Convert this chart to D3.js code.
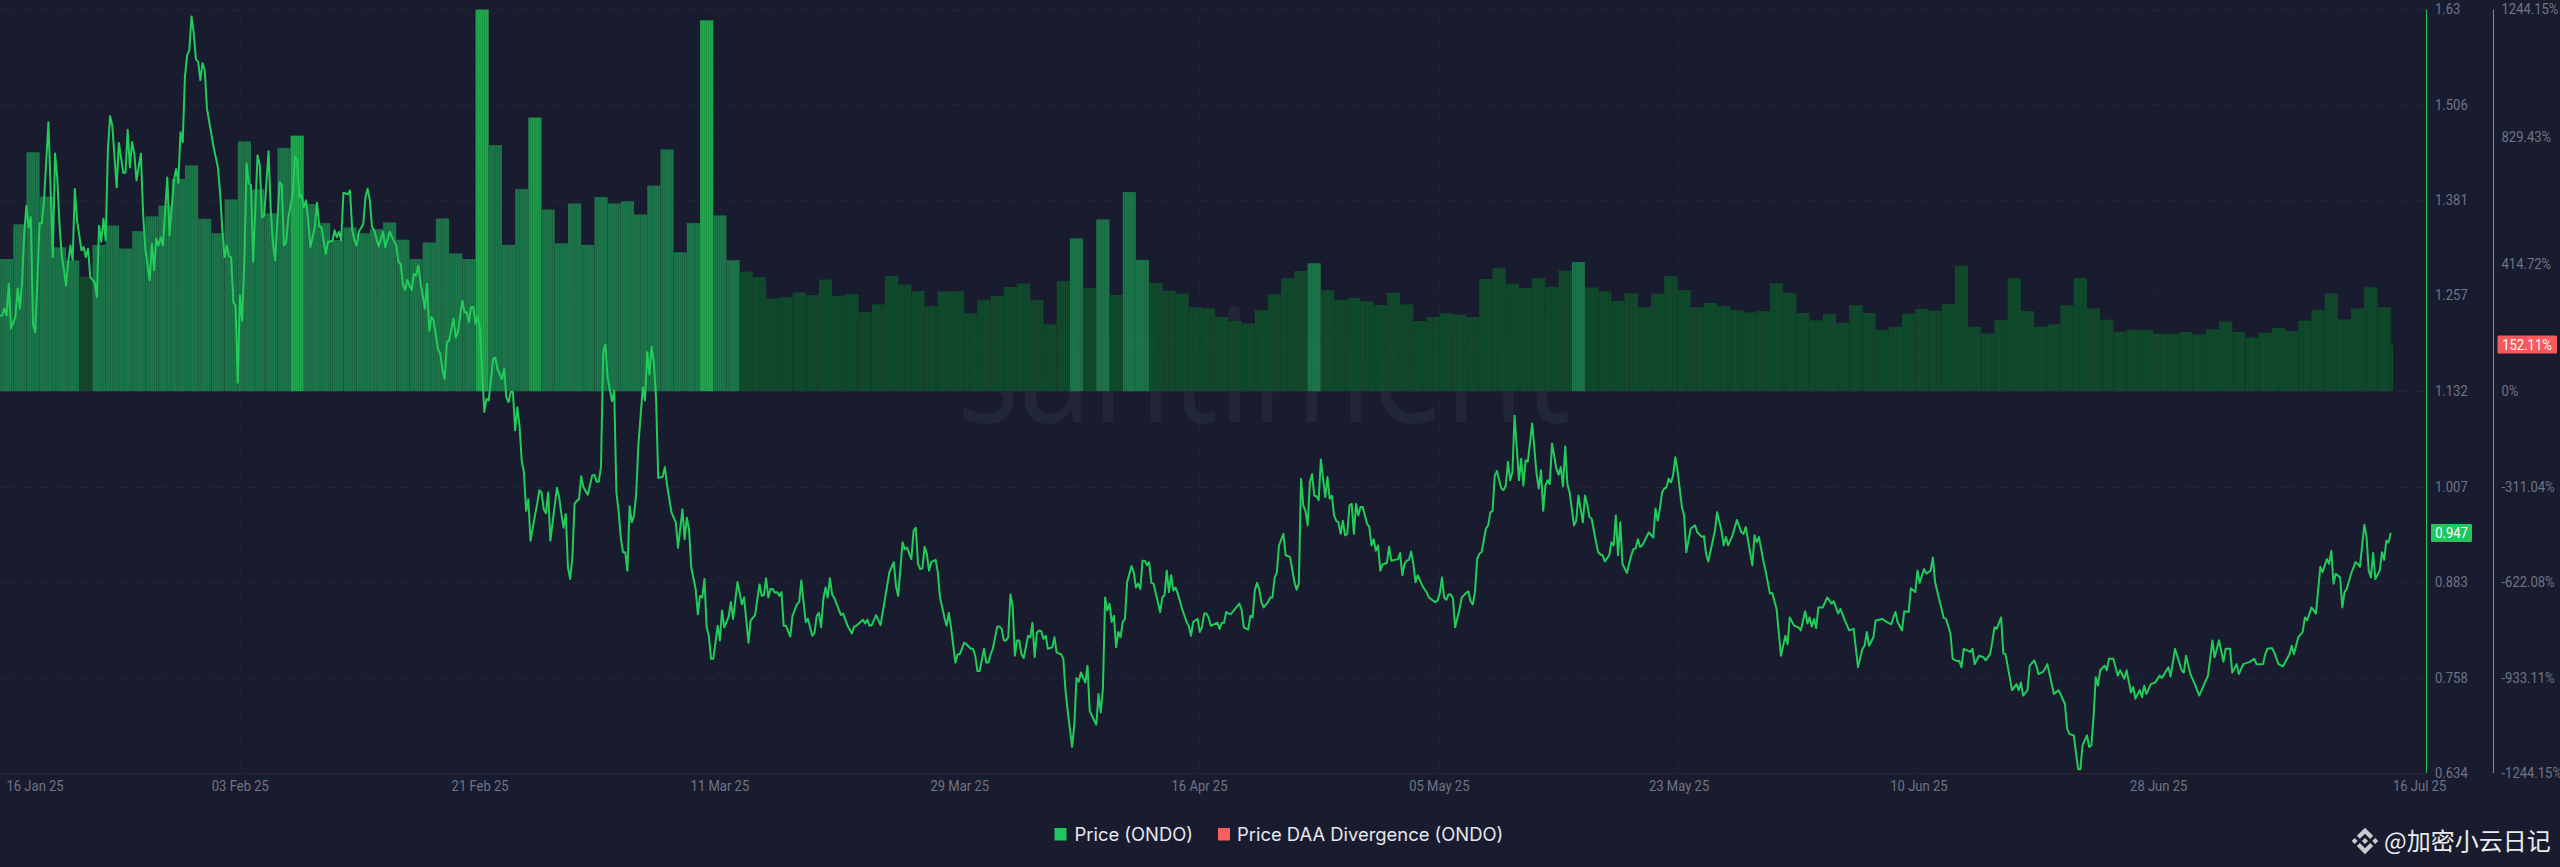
<!DOCTYPE html>
<html>
<head>
<meta charset="utf-8">
<script src="https://cdn.jsdelivr.net/npm/d3@7"></script>
<style>
html,body{margin:0;padding:0;background:#181c2e;overflow:hidden}
svg{display:block}
text{font-family:Roboto,sans-serif}
</style>
</head>
<body>
<svg id="chart" width="2560" height="867"></svg>
<script>
// ---------- data ----------
const priceTicks = [1.63,1.506,1.381,1.257,1.132,1.007,0.883,0.758,0.634];
const divergenceTicks = [1244.15,829.43,414.72,0,-311.04,-622.08,-933.11,-1244.15];
const dateTicks = [0,18.155,36.31,54.465,72.62,90.775,108.93,127.085,145.24,163.395];
const dateLabels = ["16 Jan 25","03 Feb 25","21 Feb 25","11 Mar 25","29 Mar 25","16 Apr 25","05 May 25","23 May 25","10 Jun 25","28 Jun 25"];
const lastDateLabel = "16 Jul 25";
const lastDay = 181.17;
const lastPrice = 0.947;
const lastDivergence = 152.11;
const seriesNames = ["Price (ONDO)","Price DAA Divergence (ONDO)"];
const strongDays = [22,36,40,53];
const quietEarlyDays = [6];
const moderateLateDays = [81,83,85,86,99,119];
const earlyPhaseEnd = 56;

// daily Price DAA Divergence (%)
const divergence = [431,544,779,634,469,426,373,477,540,465,522,570,605,692,736,562,515,625,814,658,580,793,833,610,548,493,534,515,528,550,494,431,485,563,449,431,1244,802,477,659,892,592,482,612,477,633,612,619,576,670,788,453,548,1209,573,427,
390,372,302,306,322,313,364,310,316,258,283,376,348,326,278,325,326,254,297,310,340,351,297,218,359,498,337,560,314,649,428,353,328,318,274,270,242,229,221,264,316,
368,392,417,329,297,304,293,281,321,283,229,242,254,250,242,366,401,350,337,368,340,393,421,338,325,294,319,274,318,375,330,274,288,278,264,257,261,352,321,255,231,252,223,280,255,200,210,253,268,262,284,409,210,188,232,368,261,210,218,280,369,270,233,194,200,200,188,187,193,185,202,227,193,175,191,206,196,230,265,319,234,270,339,274,152.11];

// price (USD) readings: [4-hour step since 16 Jan, price]
const priceReadings = [[0,1.230],[1,1.231],[2,1.240],[3,1.231],[4,1.272],[5,1.214],[7,1.229],[8,1.266],[9,1.240],[10,1.272],[11,1.338],[12,1.374],[13,1.346],[14,1.359],[15,1.220],[16,1.209],[18,1.351],[19,1.351],[20,1.381],[22,1.483],[24,1.307],[25,1.442],[26,1.411],[27,1.351],[28,1.311],[30,1.270],[31,1.301],[32,1.322],[33,1.303],[34,1.396],[35,1.355],[37,1.316],[38,1.320],[39,1.307],[40,1.318],[41,1.281],[43,1.274],[44,1.255],[45,1.348],[46,1.327],[47,1.357],[48,1.329],[49,1.446],[50,1.491],[51,1.479],[53,1.398],[54,1.456],[56,1.417],[57,1.417],[58,1.473],[59,1.424],[60,1.457],[61,1.442],[62,1.407],[64,1.442],[65,1.364],[66,1.318],[68,1.277],[69,1.324],[70,1.290],[71,1.331],[72,1.322],[73,1.333],[74,1.322],[76,1.411],[77,1.335],[79,1.407],[80,1.422],[81,1.404],[82,1.470],[83,1.457],[84,1.542],[85,1.570],[86,1.577],[87,1.621],[88,1.599],[89,1.565],[90,1.562],[91,1.538],[92,1.560],[93,1.551],[94,1.501],[97,1.451],[99,1.424],[100,1.390],[101,1.342],[102,1.307],[103,1.322],[104,1.308],[105,1.307],[106,1.248],[107,1.244],[108,1.143],[109,1.257],[110,1.224],[111,1.303],[112,1.429],[113,1.403],[114,1.401],[115,1.301],[117,1.440],[118,1.427],[119,1.359],[120,1.361],[122,1.445],[123,1.368],[124,1.324],[125,1.303],[127,1.405],[128,1.401],[129,1.322],[130,1.327],[131,1.359],[133,1.390],[134,1.438],[135,1.433],[136,1.385],[137,1.388],[138,1.372],[139,1.381],[140,1.355],[141,1.320],[143,1.346],[144,1.378],[145,1.347],[146,1.346],[148,1.311],[149,1.327],[151,1.328],[152,1.342],[153,1.333],[154,1.340],[155,1.329],[156,1.391],[158,1.389],[159,1.394],[160,1.342],[161,1.329],[162,1.322],[163,1.340],[165,1.350],[166,1.385],[167,1.396],[168,1.381],[169,1.346],[170,1.342],[172,1.321],[174,1.340],[175,1.320],[177,1.340],[178,1.334],[180,1.322],[181,1.301],[182,1.298],[183,1.272],[184,1.264],[185,1.277],[187,1.264],[188,1.285],[189,1.283],[190,1.296],[191,1.274],[193,1.240],[194,1.272],[195,1.211],[196,1.229],[197,1.224],[199,1.186],[200,1.181],[201,1.159],[202,1.148],[203,1.196],[204,1.198],[206,1.227],[207,1.202],[208,1.209],[210,1.250],[211,1.235],[212,1.235],[213,1.222],[214,1.242],[215,1.242],[216,1.220],[217,1.229],[218,1.214],[220,1.105],
[221,1.122],[222,1.120],[224,1.174],[225,1.176],[226,1.161],[228,1.148],[229,1.161],[230,1.124],[231,1.118],[232,1.131],[233,1.131],[234,1.081],[235,1.111],[236,1.087],[237,1.041],[238,1.026],[239,.976],[240,.991],[241,.937],[243,.970],[244,.985],[245,1.003],[246,1.000],[247,.978],[248,.973],[249,1.000],[250,.937],[253,1.006],[254,.994],[255,.972],[256,.954],[257,.972],[258,.902],[259,.887],[260,.915],[261,.985],[262,.989],[263,.991],[264,1.021],[265,1.007],[267,.997],[269,1.022],[270,1.023],[271,1.014],[272,1.014],[273,1.033],[274,1.183],[275,1.193],[276,1.150],[278,1.119],[279,1.133],[280,1.000],[281,.976],[282,.941],[283,.922],[284,.922],[285,.898],[286,.982],[287,.961],[288,.970],[289,.998],[290,1.063],[292,1.137],[293,1.120],[294,1.183],[295,1.154],[296,1.190],[297,1.170],[298,1.124],[299,1.019],[301,1.020],[302,1.033],[303,1.010],[305,.974],[307,.961],[308,.928],[310,.978],[311,.939],[312,.967],[313,.952],[314,.902],[316,.874],[317,.841],[318,.865],[319,.863],[320,.887],[321,.824],[322,.813],[323,.783],[324,.783],[326,.826],[327,.807],[328,.846],[329,.824],[331,.838],[332,.857],[333,.835],[335,.883],[337,.854],[338,.863],[340,.804],[341,.833],[343,.840],[345,.880],[346,.865],[347,.866],[348,.888],[349,.863],[350,.874],[351,.874],[352,.869],[353,.870],[354,.865],[355,.870],[356,.826],[357,.826],[359,.812],[360,.839],[362,.854],[363,.857],[364,.885],[366,.831],[367,.835],[369,.813],[370,.817],[371,.839],[372,.843],[373,.824],[374,.861],[375,.876],[376,.863],[377,.888],[378,.867],[379,.862],[382,.840],[383,.842],[385,.826],[387,.816],[388,.825],[389,.826],[392,.834],[393,.829],[394,.834],[395,.826],[396,.827],[398,.840],[400,.827],[402,.861],[404,.896],[406,.909],[407,.878],[408,.865],[410,.935],[411,.926],[412,.928],[414,.913],[415,.950],[416,.954],[417,.907],[418,.900],[419,.901],[420,.929],[421,.920],[422,.898],[423,.909],[425,.912],[426,.896],[427,.863],[429,.837],[430,.826],[431,.843],[432,.824],[434,.778],[435,.789],[436,.789],[438,.804],[439,.802],[441,.796],[442,.796],[443,.787],[444,.767],[445,.767],[447,.796],[448,.778],[449,.778],[450,.789],[451,.796],[453,.825],[454,.825],[455,.822],[456,.807],[457,.807],[458,.811],[459,.867],[460,.852],[461,.787],[462,.807],[463,.807],[464,.789],[465,.784],[466,.798],[467,.813],[468,.811],[469,.830],[470,.785],[471,.817],[472,.820],
[473,.819],[474,.809],[475,.813],[476,.796],[478,.798],[479,.811],[480,.791],[482,.789],[483,.783],[484,.742],[485,.715],[487,.668],[488,.696],[489,.758],[490,.753],[491,.765],[493,.752],[494,.774],[495,.715],[498,.697],[499,.737],[500,.713],[501,.744],[502,.863],[503,.846],[504,.855],[505,.831],[506,.839],[507,.798],[508,.818],[509,.811],[510,.831],[511,.835],[512,.883],[514,.904],[515,.896],[516,.876],[517,.881],[518,.874],[519,.911],[520,.911],[521,.905],[522,.909],[523,.882],[524,.881],[527,.844],[528,.863],[529,.866],[530,.898],[531,.870],[532,.892],[533,.872],[534,.876],[535,.868],[537,.848],[539,.831],[540,.826],[541,.813],[542,.831],[544,.835],[545,.818],[546,.824],[547,.842],[548,.842],[549,.837],[550,.826],[553,.830],[554,.822],[555,.830],[556,.830],[557,.844],[559,.841],[563,.855],[564,.847],[565,.824],[567,.821],[568,.839],[569,.837],[570,.872],[571,.882],[572,.874],[573,.857],[574,.850],[576,.857],[577,.863],[578,.863],[579,.889],[580,.896],[581,.931],[583,.946],[584,.918],[586,.916],[588,.883],[589,.873],[590,.881],[591,1.018],[592,.983],[593,.976],[594,.957],[595,1.013],[596,1.024],[597,.996],[598,.995],[599,.990],[600,1.043],[602,.994],[603,1.020],[604,.992],[605,.996],[606,.970],[607,.963],[608,.961],[609,.946],[610,.963],[611,.944],[612,.946],[613,.983],[614,.985],[615,.946],[616,.985],[617,.970],[618,.981],[619,.981],[621,.959],[622,.955],[623,.931],[624,.939],[625,.924],[626,.931],[627,.898],[628,.906],[630,.908],[631,.929],[632,.911],[635,.913],[636,.921],[637,.892],[638,.907],[639,.911],[640,.912],[641,.923],[642,.907],[643,.883],[644,.892],[646,.879],[647,.874],[648,.870],[649,.863],[652,.857],[653,.859],[654,.868],[655,.889],[656,.863],[657,.860],[658,.867],[659,.867],[660,.862],[661,.824],[663,.848],[664,.863],[666,.869],[667,.871],[668,.858],[669,.854],[670,.870],[671,.913],[672,.920],[673,.922],[675,.953],[676,.957],[677,.974],[678,.976],[679,1.022],[680,1.028],[681,1.016],[682,1.005],[683,1.003],[684,1.009],[685,1.040],[686,1.016],[687,1.026],[688,1.100],[690,1.016],[691,1.044],[692,1.009],[693,1.042],[694,1.040],[696,1.090],[698,1.024],[699,1.005],[700,1.029],[701,.976],[702,1.009],[703,1.016],[704,1.011],[705,1.064],[707,1.031],[708,1.023],[709,1.033],[710,1.008],[711,1.060],[712,1.011],[713,1.000],[715,.957],[716,.963],[717,.996],[719,.961],[720,.996],[721,.984],[722,.968],[723,.966],[725,.935],[726,.922],[727,.919],[728,.918],[729,.910],[731,.918],[732,.935],[733,.931],[734,.970],[735,.918],[736,.961],[737,.907],[739,.895],[741,.918],[742,.926],[743,.927],[744,.939],[745,.929],[746,.931],[749,.948],[751,.941],[752,.979],[753,.963],[754,.979],[755,1.000],[756,1.005],[757,1.007],[758,1.018],[759,1.013],[760,1.022],[761,1.046],[762,1.029],
[764,.981],[765,.970],[766,.922],[768,.953],[770,.957],[771,.948],[773,.942],[774,.943],[775,.920],[776,.910],[779,.950],[780,.974],[782,.950],[783,.931],[784,.942],[785,.931],[787,.944],[789,.964],[791,.948],[792,.946],[793,.955],[796,.905],[797,.944],[798,.935],[799,.942],[801,.911],[802,.898],[804,.868],[805,.869],[807,.848],[809,.787],[811,.813],[812,.802],[813,.837],[815,.826],[817,.824],[818,.820],[820,.845],[821,.829],[822,.837],[823,.825],[824,.835],[825,.823],[826,.850],[828,.850],[830,.863],[832,.855],[833,.858],[835,.842],[836,.848],[838,.833],[840,.820],[842,.822],[844,.772],[846,.796],[847,.800],[848,.818],[849,.800],[851,.811],[852,.833],[855,.835],[857,.831],[859,.828],[861,.844],[862,.831],[864,.820],[865,.845],[867,.844],[868,.875],[870,.870],[871,.898],[872,.882],[874,.900],[875,.894],[877,.898],[878,.915],[879,.883],[881,.859],[883,.836],[884,.835],[886,.816],[887,.783],[889,.780],[890,.780],[891,.772],[892,.796],[895,.792],[896,.796],[897,.776],[899,.787],[901,.785],[902,.781],[904,.789],[905,.805],[906,.824],[907,.822],[909,.837],[910,.790],[911,.789],[914,.742],[916,.750],[917,.742],[918,.752],[919,.735],[921,.742],[922,.774],[924,.781],[925,.774],[926,.763],[928,.766],[929,.770],[930,.776],[932,.750],[933,.737],[935,.742],[936,.737],[938,.724],[939,.692],[940,.685],[942,.683],[944,.639],[945,.639],[946,.670],[948,.683],[949,.668],[950,.670],[951,.707],[952,.759],[953,.748],[954,.768],[956,.774],[957,.768],[958,.783],[960,.783],[962,.761],[963,.768],[965,.757],[966,.768],[968,.739],[969,.746],[970,.731],[972,.742],[973,.733],[974,.748],[975,.737],[977,.750],[979,.752],[981,.761],[982,.758],[985,.772],[986,.760],[988,.796],[991,.768],[992,.765],[993,.787],[995,.763],[997,.750],[999,.735],[1001,.748],[1003,.761],[1005,.807],[1006,.785],[1008,.807],[1010,.779],[1011,.796],[1013,.796],[1014,.765],[1016,.776],[1017,.763],[1019,.776],[1022,.779],[1024,.783],[1025,.776],[1028,.776],[1029,.789],[1030,.796],[1032,.797],[1033,.792],[1035,.776],[1037,.773],[1040,.789],[1041,.800],[1042,.789],[1044,.811],[1046,.818],[1047,.837],[1048,.833],[1050,.850],[1052,.842],[1054,.903],[1055,.896],[1057,.913],[1058,.907],[1059,.924],[1060,.881],[1061,.894],[1063,.889],[1064,.850],[1065,.870],[1066,.874],[1068,.894],[1070,.909],[1071,.907],[1072,.903],[1074,.958],[1075,.942],[1076,.898],[1077,.889],[1078,.921],[1079,.887],[1081,.898],[1082,.922],[1083,.912],[1084,.937],[1085,.935],[1086,.947]];

// ---------- layout ----------
const plotRight = 2426, greenAxisX = 2426.5, redAxisX = 2493.5, plotTop = 9.5, plotBottom = 773;
const BG = "#181c2e", GREEN = "#22c55e", RED = "#f8595f", GRID = "#23273a", TICK = "#707487";

const svg = d3.select("#chart");
const x = d3.scaleLinear().domain([0,lastDay]).range([0,2393]);
const yPrice = d3.scaleLinear().domain([0.634,1.63]).range([plotBottom,plotTop]);
const yDiv = d3.scaleLinear().domain([-1244.15,1244.15]).range([plotBottom,plotTop]);

svg.append("rect").attr("width",2560).attr("height",867).attr("fill",BG);

// narrow the small labels a little: the source text is taller than Roboto at the same width
function condense(sel){
  sel.each(function(){
    d3.select(this).attr("textLength",this.getComputedTextLength()*0.93).attr("lengthAdjust","spacingAndGlyphs");
  });
}

// stripes inside the bars
const defs = svg.append("defs");
const pat = defs.append("pattern").attr("id","stripes").attr("patternUnits","userSpaceOnUse")
  .attr("width",2.2).attr("height",10);
pat.append("rect").attr("width",0.7).attr("height",10).attr("fill","#000").attr("fill-opacity",0.14);

// grid (from axes)
const gridH = svg.append("g").attr("transform",`translate(${plotRight},0)`)
  .call(d3.axisLeft(yPrice).tickValues(priceTicks).tickSize(plotRight).tickFormat(""));
gridH.select(".domain").remove();
gridH.selectAll("line").attr("stroke",GRID).attr("stroke-dasharray","11 8");
const gridV = svg.append("g").attr("transform",`translate(0,${plotBottom})`)
  .call(d3.axisTop(x).tickValues(dateTicks.slice(1)).tickSize(plotBottom-plotTop).tickFormat(""));
gridV.select(".domain").remove();
gridV.selectAll("line").attr("stroke","#1f2336").attr("stroke-dasharray","14 10");

svg.append("line").attr("x1",0).attr("x2",plotRight).attr("y1",plotBottom+0.5).attr("y2",plotBottom+0.5).attr("stroke",GRID);

// watermark
svg.append("text").attr("x",957).attr("y",422).attr("font-size",160).attr("font-weight",400)
  .style("font-family","'Open Sans',sans-serif").attr("fill","#222639")
  .attr("textLength",614).attr("lengthAdjust","spacingAndGlyphs").text("santiment");

// bars
function barColor(i){
  if (strongDays.includes(i)) return i===40 ? "#1f9d4c" : "#20ad4e";
  if (quietEarlyDays.includes(i)) return "#164a2e";
  if (i<earlyPhaseEnd || moderateLateDays.includes(i)) return "#1e7a4c";
  return "#124d2d";
}
const bars = svg.append("g");
const barRect = s => s.attr("x",(d,i)=>x(i)).attr("width",(d,i)=>x(Math.min(i+1,lastDay))-x(i))
  .attr("y",d=>yDiv(d)).attr("height",d=>yDiv(0)-yDiv(d));
bars.selectAll("rect.b").data(divergence).join("rect").attr("class","b").call(barRect)
  .attr("fill",(d,i)=>barColor(i)).attr("fill-opacity",0.97);
bars.selectAll("rect.s").data(divergence).join("rect").attr("class","s").call(barRect)
  .attr("fill","url(#stripes)");

// price line
const line = d3.line().x(d=>x(d[0]/6)).y(d=>yPrice(d[1]));
svg.append("path").datum(priceReadings).attr("d",line).attr("fill","none")
  .attr("stroke","#22cb5a").attr("stroke-width",2).attr("stroke-linejoin","round");

// axes
function styleAxis(g){
  g.select(".domain").remove();
  g.selectAll("line").remove();
  g.selectAll("text").attr("fill",TICK).attr("font-size",14).style("font-family","Roboto,sans-serif").call(condense);
}
svg.append("g").attr("transform",`translate(${greenAxisX},0)`)
  .call(d3.axisRight(yPrice).tickValues(priceTicks).tickSize(0).tickPadding(8.5)
    .tickFormat(d=>String(d))).call(styleAxis);
svg.append("g").attr("transform",`translate(${redAxisX},0)`)
  .call(d3.axisRight(yDiv).tickValues(divergenceTicks).tickSize(0).tickPadding(8)
    .tickFormat(d=>d+"%")).call(styleAxis);
const xAxis = svg.append("g").attr("transform",`translate(0,${plotBottom})`)
  .call(d3.axisBottom(x).tickValues(dateTicks).tickSize(0).tickPadding(8)
    .tickFormat((d,i)=>dateLabels[i])).call(styleAxis);
xAxis.selectAll("text").filter((d,i)=>i===0).attr("text-anchor","start").attr("x",6);
svg.append("text").attr("x",x(lastDay)).attr("y",plotBottom+18).attr("fill",TICK).attr("font-size",14).text(lastDateLabel).call(condense);

svg.append("line").attr("x1",greenAxisX).attr("x2",greenAxisX).attr("y1",plotTop).attr("y2",plotBottom).attr("stroke",GREEN);
svg.append("line").attr("x1",redAxisX).attr("x2",redAxisX).attr("y1",plotTop).attr("y2",plotBottom).attr("stroke",RED);

// last value tags
svg.append("rect").attr("x",2431).attr("y",yPrice(lastPrice)-9).attr("width",41).attr("height",18).attr("rx",1).attr("fill",GREEN);
svg.append("text").attr("x",2451.5).attr("y",yPrice(lastPrice)+0.5).attr("dy",".35em").attr("text-anchor","middle")
  .attr("fill","#fff").attr("font-size",14).text(lastPrice).call(condense);
svg.append("rect").attr("x",2497.5).attr("y",yDiv(lastDivergence)-9).attr("width",59.5).attr("height",18).attr("rx",1).attr("fill",RED);
svg.append("text").attr("x",2527).attr("y",yDiv(lastDivergence)+0.5).attr("dy",".35em").attr("text-anchor","middle")
  .attr("fill","#fff").attr("font-size",14).text(lastDivergence+"%").call(condense);

// legend
const legend = [[1054.5,1074.5,GREEN],[1218,1237,"#fb5f62"]];
legend.forEach((l,i)=>{
  svg.append("rect").attr("x",l[0]).attr("y",828).attr("width",12).attr("height",12.5).attr("fill",l[2]);
  svg.append("text").attr("x",l[1]).attr("y",834.5).attr("dy",".36em").attr("fill","#e6e8ef")
    .attr("font-size",18.4).style("font-family","Inter,sans-serif").text(seriesNames[i]);
});

// credit
const logo = svg.append("g").attr("transform","translate(2351.7,827.7) scale(0.21)").attr("fill","#c9cacd");
["M38.73 53.2l24.59-24.58 24.6 24.6 14.3-14.31L63.32 0 24.42 38.9z",
 "M0 63.31l14.3-14.31 14.31 14.31-14.31 14.3z",
 "M38.73 73.41l24.59 24.59 24.6-24.6 14.31 14.29-38.9 38.91-38.91-38.88z",
 "M98 63.31l14.3-14.31 14.31 14.31-14.31 14.3z",
 "M77.83 63.3L63.32 48.78 52.59 59.51l-1.24 1.23-2.54 2.54 14.51 14.5 14.51-14.47z"
].forEach(d=>logo.append("path").attr("d",d));
svg.append("text").attr("x",2384).attr("y",841).attr("dy",".36em").attr("fill","#ececef").attr("font-size",24)
  .style("font-family","'Noto Sans CJK SC',sans-serif").text("@加密小云日记");
</script>
</body>
</html>
